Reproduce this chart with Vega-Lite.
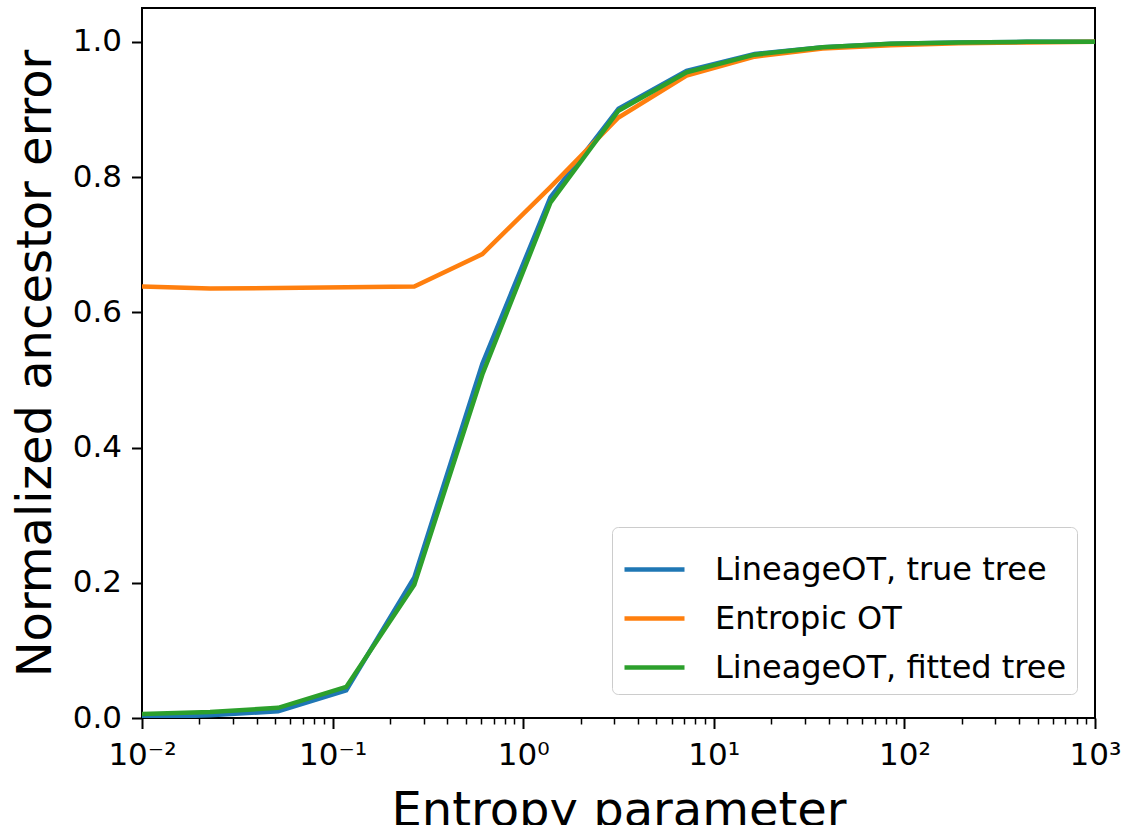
{
  "$schema": "https://vega.github.io/schema/vega-lite/v6.json",
  "width": 953,
  "height": 710,
  "autosize": {"type": "none"},
  "padding": {"left": 142, "top": 8, "right": 31, "bottom": 107},
  "background": "white",
  "config": {
    "font": "DejaVu Sans",
    "view": {"stroke": "black", "strokeWidth": 2},
    "axis": {"grid": false, "domain": false, "tickColor": "black", "tickWidth": 2, "labelColor": "black", "titleColor": "black", "titleFontWeight": "normal", "labelFont": "DejaVu Sans", "titleFont": "DejaVu Sans"}
  },
  "data": {"values": [
    {"x": 0.01, "y": 0.001, "series": "LineageOT, true tree"},
    {"x": 0.02276, "y": 0.004, "series": "LineageOT, true tree"},
    {"x": 0.05179, "y": 0.010, "series": "LineageOT, true tree"},
    {"x": 0.1179, "y": 0.041, "series": "LineageOT, true tree"},
    {"x": 0.2683, "y": 0.208, "series": "LineageOT, true tree"},
    {"x": 0.6105, "y": 0.524, "series": "LineageOT, true tree"},
    {"x": 1.389, "y": 0.770, "series": "LineageOT, true tree"},
    {"x": 3.162, "y": 0.901, "series": "LineageOT, true tree"},
    {"x": 7.197, "y": 0.957, "series": "LineageOT, true tree"},
    {"x": 16.38, "y": 0.982, "series": "LineageOT, true tree"},
    {"x": 37.28, "y": 0.992, "series": "LineageOT, true tree"},
    {"x": 84.83, "y": 0.997, "series": "LineageOT, true tree"},
    {"x": 193.1, "y": 0.999, "series": "LineageOT, true tree"},
    {"x": 439.4, "y": 1.0, "series": "LineageOT, true tree"},
    {"x": 1000, "y": 1.0, "series": "LineageOT, true tree"},
    {"x": 0.01, "y": 0.638, "series": "Entropic OT"},
    {"x": 0.02276, "y": 0.635, "series": "Entropic OT"},
    {"x": 0.05179, "y": 0.636, "series": "Entropic OT"},
    {"x": 0.1179, "y": 0.637, "series": "Entropic OT"},
    {"x": 0.2683, "y": 0.638, "series": "Entropic OT"},
    {"x": 0.6105, "y": 0.686, "series": "Entropic OT"},
    {"x": 1.389, "y": 0.785, "series": "Entropic OT"},
    {"x": 3.162, "y": 0.888, "series": "Entropic OT"},
    {"x": 7.197, "y": 0.950, "series": "Entropic OT"},
    {"x": 16.38, "y": 0.978, "series": "Entropic OT"},
    {"x": 37.28, "y": 0.990, "series": "Entropic OT"},
    {"x": 84.83, "y": 0.995, "series": "Entropic OT"},
    {"x": 193.1, "y": 0.998, "series": "Entropic OT"},
    {"x": 439.4, "y": 0.999, "series": "Entropic OT"},
    {"x": 1000, "y": 1.0, "series": "Entropic OT"},
    {"x": 0.01, "y": 0.006, "series": "LineageOT, fitted tree"},
    {"x": 0.02276, "y": 0.009, "series": "LineageOT, fitted tree"},
    {"x": 0.05179, "y": 0.015, "series": "LineageOT, fitted tree"},
    {"x": 0.1179, "y": 0.046, "series": "LineageOT, fitted tree"},
    {"x": 0.2683, "y": 0.197, "series": "LineageOT, fitted tree"},
    {"x": 0.6105, "y": 0.508, "series": "LineageOT, fitted tree"},
    {"x": 1.389, "y": 0.762, "series": "LineageOT, fitted tree"},
    {"x": 3.162, "y": 0.898, "series": "LineageOT, fitted tree"},
    {"x": 7.197, "y": 0.955, "series": "LineageOT, fitted tree"},
    {"x": 16.38, "y": 0.981, "series": "LineageOT, fitted tree"},
    {"x": 37.28, "y": 0.992, "series": "LineageOT, fitted tree"},
    {"x": 84.83, "y": 0.997, "series": "LineageOT, fitted tree"},
    {"x": 193.1, "y": 0.999, "series": "LineageOT, fitted tree"},
    {"x": 439.4, "y": 1.0, "series": "LineageOT, fitted tree"},
    {"x": 1000, "y": 1.0, "series": "LineageOT, fitted tree"}
  ]},
  "layer": [
    {
      "mark": {"type": "line", "strokeWidth": 4.5, "clip": true},
      "encoding": {
        "x": {"field": "x", "type": "quantitative",
          "scale": {"type": "log", "domain": [0.01, 1000], "nice": false},
          "axis": {"orient": "bottom", "values": [0.01, 0.1, 1, 10, 100, 1000],
            "labelExpr": "['10⁻²','10⁻¹','10⁰','10¹','10²','10³'][round(log(datum.value)/LN10)+2]",
            "tickSize": 10.5, "labelPadding": 12, "labelFontSize": 31, "labelFlush": false,
            "title": "Entropy parameter", "titleFontSize": 48, "titlePadding": 17}},
        "y": {"field": "y", "type": "quantitative",
          "scale": {"domain": [0, 1.05], "nice": false, "zero": false},
          "axis": {"values": [0, 0.2, 0.4, 0.6, 0.8, 1.0], "format": ".1f",
            "tickSize": 10.5, "labelPadding": 10, "labelFontSize": 31,
            "title": "Normalized ancestor error", "titleFontSize": 48, "titlePadding": 12}},
        "color": {"field": "series", "type": "nominal",
          "scale": {"domain": ["LineageOT, true tree", "Entropic OT", "LineageOT, fitted tree"],
            "range": ["#1f77b4", "#ff7f0e", "#2ca02c"]},
          "legend": {"title": null, "orient": "none", "legendX": 470, "legendY": 519,
            "fillColor": "rgba(255,255,255,0.8)", "strokeColor": "#cccccc", "cornerRadius": 6,
            "padding": 10, "symbolType": "stroke", "symbolSize": 3600, "symbolStrokeWidth": 4.5,
            "labelFontSize": 32, "labelColor": "black", "labelFont": "DejaVu Sans", "rowPadding": 0, "labelOffset": 28, "labelLimit": 600}}
      }
    },
    {
      "mark": {"type": "point", "opacity": 0},
      "encoding": {
        "x": {"field": "x", "type": "quantitative",
          "axis": {"orient": "bottom", "values": [0.02,0.03,0.04,0.05,0.06,0.07,0.08,0.09,0.2,0.3,0.4,0.5,0.6,0.7,0.8,0.9,2,3,4,5,6,7,8,9,20,30,40,50,60,70,80,90,200,300,400,500,600,700,800,900],
            "labels": false, "title": null, "tickSize": 6, "tickWidth": 1.5}},
        "y": {"field": "y", "type": "quantitative"}
      }
    }
  ],
  "resolve": {"axis": {"x": "independent"}}
}
